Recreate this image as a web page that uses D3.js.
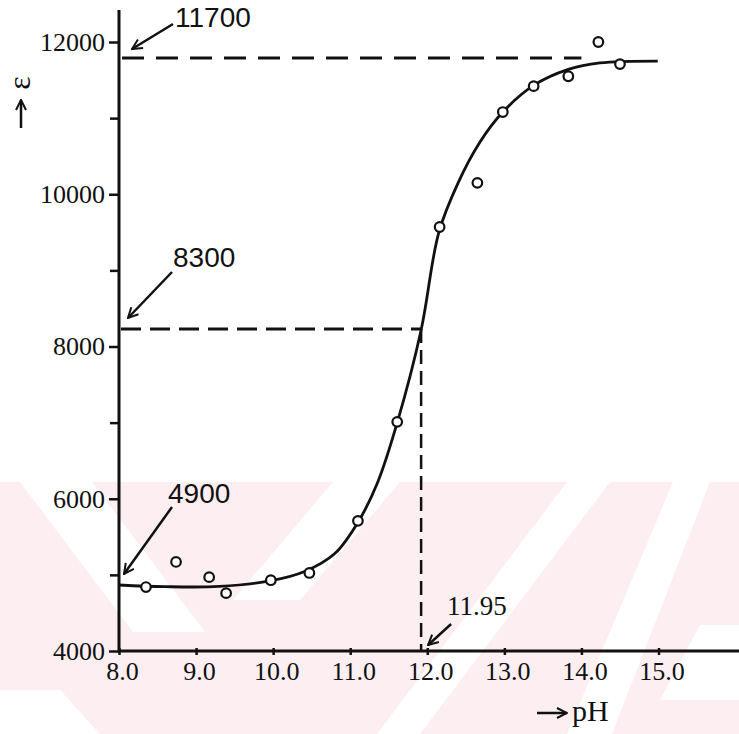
<!DOCTYPE html>
<html>
<head>
<meta charset="utf-8">
<script src="https://cdn.jsdelivr.net/npm/d3@7"></script>
<style>
  html, body { margin: 0; padding: 0; background: #ffffff; }
  svg { display: block; }
  .tick text { font-family: "Liberation Serif", serif; font-size: 26px; fill: #111; }
  .note { font-family: "Liberation Sans", sans-serif; font-size: 28px; fill: #111; }
  .serif { font-family: "Liberation Serif", serif; fill: #111; }
</style>
</head>
<body>
<div id="chart"></div>
<script>
// measured points (open circles)
const measPH  = [8.35, 8.74, 9.17, 9.39, 9.97, 10.47, 11.10, 11.61, 12.16, 12.65, 12.98, 13.38, 13.83, 14.22, 14.50];
const measEps = [4840, 5170, 4970, 4760, 4930, 5025, 5710, 7010, 9570, 10150, 11080, 11420, 11550, 12000, 11710];

// hand drawn titration curve
const curvePH  = [8.00, 8.60, 9.30, 9.96, 10.40, 10.80, 11.10, 11.35, 11.61, 11.92, 12.15, 12.40, 12.68, 12.98, 13.38, 13.83, 14.24, 14.99];
const curveEps = [4867, 4845, 4848, 4920, 5040, 5280, 5690, 6200, 7000, 8217, 9500, 10150, 10680, 11080, 11430, 11640, 11725, 11750];

// axis ticks
const phTicks = [8, 9, 10, 11, 12, 13, 14, 15];
const epsMajor = [4000, 6000, 8000, 10000, 12000];
const epsMinor = [5000, 7000, 9000, 11000];

// reference lines as drawn (labels as printed)
const plateauEps = 11790, plateauEnd = 14.0, plateauLabel = "11700";
const midEps = 8230, midLabel = "8300";
const baseEps = 4867, baseLabel = "4900";
const pKa = 11.92, pKaLabel = "11.95";

const width = 739, height = 734;

const svg = d3.select("#chart").append("svg")
  .attr("width", width)
  .attr("height", height);

// faint watermark of the scan
const wm = svg.append("g");
wm.append("rect").attr("x", 0).attr("y", 482).attr("width", width).attr("height", height - 482)
  .attr("fill", "#fdeff1");
const stripes = [
  [[20, 482], [92, 482], [205, 632], [133, 632]],
  [[333, 482], [400, 482], [300, 600], [233, 600]],
  [[567, 482], [610, 482], [420, 734], [377, 734]],
  [[673, 482], [710, 482], [612, 734], [567, 734]],
  [[700, 625], [739, 625], [739, 700], [660, 700]],
  [[0, 690], [60, 690], [100, 734], [0, 734]]
];
wm.selectAll("polygon").data(stripes).join("polygon")
  .attr("points", d => d.map(p => p.join(",")).join(" "))
  .attr("fill", "#ffffff");

const x = d3.scaleLinear().domain([8, 15]).range([119, 658.5]);
const y = d3.scaleLinear().domain([4000, 12000]).range([651, 42]);

// axes
const yAxis = svg.append("g")
  .attr("transform", `translate(${x(8)},0)`)
  .call(d3.axisLeft(y).tickValues(epsMajor).tickFormat(d3.format("d")).tickSize(10).tickPadding(4));
yAxis.select(".domain").remove();
yAxis.selectAll(".tick line").attr("stroke", "#111").attr("stroke-width", 2.5);

const yMinor = svg.append("g")
  .attr("transform", `translate(${x(8)},0)`)
  .call(d3.axisLeft(y).tickValues(epsMinor).tickFormat("").tickSize(9));
yMinor.select(".domain").remove();
yMinor.selectAll(".tick line").attr("stroke", "#111").attr("stroke-width", 2.5);

const xAxis = svg.append("g")
  .attr("transform", `translate(0,${y(4000)})`)
  .call(d3.axisBottom(x).tickValues(phTicks).tickFormat(d3.format(".1f")).tickSize(4).tickPadding(7));
xAxis.select(".domain").remove();
xAxis.selectAll(".tick line").attr("stroke", "#111").attr("stroke-width", 2.5).attr("y1", -3);
xAxis.selectAll(".tick text").attr("dx", 3);

// axis spines
svg.append("line")
  .attr("x1", x(8)).attr("x2", x(8))
  .attr("y1", 10).attr("y2", y(4000) + 1.5)
  .attr("stroke", "#111").attr("stroke-width", 3);
svg.append("line")
  .attr("x1", x(8)).attr("x2", width)
  .attr("y1", y(4000)).attr("y2", y(4000))
  .attr("stroke", "#111").attr("stroke-width", 3);

// dashed reference lines
const dashed = svg.append("g")
  .attr("stroke", "#111")
  .attr("fill", "none");
dashed.append("line")
  .attr("x1", x(8) + 3).attr("x2", x(plateauEnd))
  .attr("y1", y(plateauEps)).attr("y2", y(plateauEps))
  .attr("stroke-width", 3).attr("stroke-dasharray", "22,12");
dashed.append("line")
  .attr("x1", x(8) + 2).attr("x2", x(pKa))
  .attr("y1", y(midEps)).attr("y2", y(midEps))
  .attr("stroke-width", 3).attr("stroke-dasharray", "20,9");
dashed.append("line")
  .attr("x1", x(pKa)).attr("x2", x(pKa))
  .attr("y1", y(midEps)).attr("y2", y(4000))
  .attr("stroke-width", 2.5).attr("stroke-dasharray", "14,7");

// curve
const line = d3.line()
  .x((d, i) => x(curvePH[i]))
  .y((d, i) => y(curveEps[i]))
  .curve(d3.curveCatmullRom.alpha(0.5));
svg.append("path")
  .datum(curveEps)
  .attr("d", line)
  .attr("fill", "none")
  .attr("stroke", "#111")
  .attr("stroke-width", 2.8);

// measured points
svg.append("g").selectAll("circle")
  .data(measEps)
  .join("circle")
  .attr("cx", (d, i) => x(measPH[i]))
  .attr("cy", d => y(d))
  .attr("r", 4.8)
  .attr("fill", "#ffffff")
  .attr("stroke", "#111")
  .attr("stroke-width", 2.2);

// arrow annotations: head placed next to the value, tail offset toward the label
svg.append("defs").append("marker")
  .attr("id", "head")
  .attr("viewBox", "0 0 10 10")
  .attr("refX", 9).attr("refY", 5)
  .attr("markerWidth", 5).attr("markerHeight", 5)
  .attr("orient", "auto")
  .attr("markerUnits", "strokeWidth")
  .append("path")
  .attr("d", "M1,1L9,5L1,9")
  .attr("fill", "none")
  .attr("stroke", "#111")
  .attr("stroke-width", 1.6);

const notes = [
  { text: plateauLabel, hx: x(8) + 13, hy: y(plateauEps) - 9, tx: 41, ty: -25, lx: 175, ly: 27, cls: "note" },
  { text: midLabel, hx: x(8) + 9, hy: y(midEps) - 11, tx: 44, ty: -46, lx: 173, ly: 267, cls: "note" },
  { text: baseLabel, hx: x(8) + 5, hy: y(baseEps) - 11, tx: 48, ty: -67, lx: 168, ly: 503, cls: "note" },
  { text: pKaLabel, hx: x(pKa) + 7, hy: y(4000) - 6, tx: 23, ty: -21, lx: 447, ly: 615, cls: "serif" }
];

const ann = svg.append("g");
ann.selectAll("line")
  .data(notes)
  .join("line")
  .attr("x1", d => d.hx + d.tx).attr("y1", d => d.hy + d.ty)
  .attr("x2", d => d.hx).attr("y2", d => d.hy)
  .attr("stroke", "#111")
  .attr("stroke-width", 2.5)
  .attr("marker-end", "url(#head)");
ann.selectAll("text")
  .data(notes)
  .join("text")
  .attr("class", d => d.cls)
  .attr("x", d => d.lx)
  .attr("y", d => d.ly)
  .style("font-size", d => d.cls === "serif" ? "27px" : null)
  .text(d => d.text);

// axis titles
svg.append("text")
  .attr("class", "serif")
  .attr("transform", "translate(30,83) rotate(-90)")
  .attr("text-anchor", "middle")
  .style("font-size", "32px")
  .text("ε");
svg.append("line")
  .attr("x1", 21).attr("y1", 128)
  .attr("x2", 21).attr("y2", 100)
  .attr("stroke", "#111").attr("stroke-width", 2.5)
  .attr("marker-end", "url(#head)");
svg.append("line")
  .attr("x1", 537).attr("y1", 713)
  .attr("x2", 567).attr("y2", 713)
  .attr("stroke", "#111").attr("stroke-width", 2.5)
  .attr("marker-end", "url(#head)");
svg.append("text")
  .attr("class", "serif")
  .attr("x", 572)
  .attr("y", 721)
  .style("font-size", "30px")
  .text("pH");
</script>
</body>
</html>
